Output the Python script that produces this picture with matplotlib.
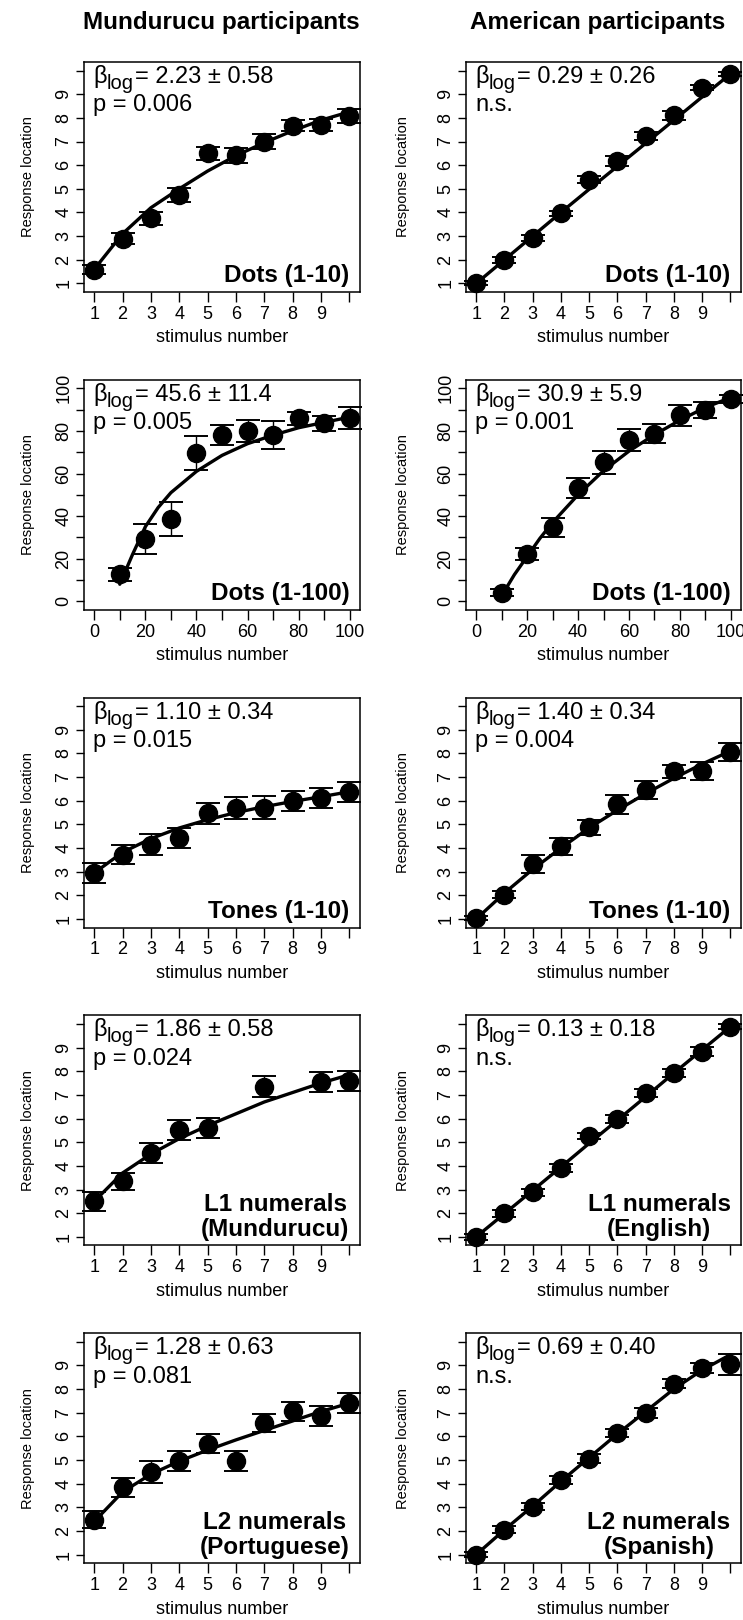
import numpy as np
import matplotlib
matplotlib.use('Agg')
import matplotlib.pyplot as plt
from matplotlib.transforms import offset_copy

plt.rcParams['font.family'] = ['Liberation Sans', 'DejaVu Sans']

stim10 = [1, 2, 3, 4, 5, 6, 7, 8, 9, 10]
stim100 = [10, 20, 30, 40, 50, 60, 70, 80, 90, 100]
fit100_x = [10, 15, 20, 25, 30, 40, 50, 60, 70, 80, 90, 100]
stimL1_mund = [1, 2, 3, 4, 5, 7, 9, 10]

# Mundurucu
mund_dots10 = [1.58, 2.9, 3.75, 4.75, 6.5, 6.42, 7.0, 7.66, 7.7, 8.08]
mund_dots10_err = [0.2, 0.23, 0.28, 0.3, 0.28, 0.32, 0.3, 0.23, 0.27, 0.3]
mund_dots10_fit = [1.6, 3.1, 4.2, 5.0, 5.75, 6.4, 6.95, 7.45, 7.9, 8.25]

mund_dots100 = [12.7, 29.3, 38.6, 69.8, 78.2, 80.0, 78.2, 86.0, 83.5, 86.0]
mund_dots100_err = [3.0, 7.1, 7.9, 8.0, 4.7, 5.1, 6.6, 3.0, 3.4, 5.2]
mund_dots100_fit = [8, 22, 35, 44, 51, 61, 68.5, 74, 78, 81.5, 84, 86.5]

mund_tones = [2.95, 3.72, 4.14, 4.42, 5.47, 5.71, 5.71, 6.0, 6.1, 6.38]
mund_tones_err = [0.43, 0.4, 0.44, 0.42, 0.44, 0.46, 0.5, 0.43, 0.42, 0.42]
mund_tones_fit = [2.95, 3.82, 4.4, 4.85, 5.2, 5.5, 5.75, 5.97, 6.17, 6.38]

mund_L1 = [2.5, 3.35, 4.55, 5.5, 5.6, 7.35, 7.55, 7.6]
mund_L1_err = [0.4, 0.37, 0.42, 0.42, 0.42, 0.44, 0.42, 0.43]
mund_L1_fit = [2.5, 3.7, 4.5, 5.15, 5.7, 6.2, 6.7, 7.1, 7.5, 7.85]

mund_L2 = [2.48, 3.84, 4.5, 4.96, 5.69, 4.96, 6.57, 7.06, 6.85, 7.41]
mund_L2_err = [0.37, 0.42, 0.45, 0.42, 0.41, 0.41, 0.39, 0.4, 0.43, 0.44]
mund_L2_fit = [2.4, 3.65, 4.4, 4.95, 5.42, 5.85, 6.25, 6.65, 7.05, 7.4]

# American
amer_dots10 = [1.02, 1.99, 2.94, 3.96, 5.39, 6.18, 7.23, 8.11, 9.28, 9.85]
amer_dots10_err = [0.1, 0.12, 0.13, 0.12, 0.15, 0.2, 0.17, 0.2, 0.12, 0.1]
amer_dots10_fit = [1.0, 2.0, 3.0, 4.0, 4.98, 5.95, 6.92, 7.9, 8.88, 9.85]

amer_dots100 = [4.1, 22.2, 34.8, 53.2, 65.2, 75.8, 78.7, 87.3, 90.0, 95.0]
amer_dots100_err = [1.5, 3.0, 4.4, 4.9, 5.4, 5.2, 4.4, 5.0, 3.8, 2.0]
amer_dots100_fit = [2.6, 12.5, 21, 29.5, 37, 50, 61.3, 70.5, 78.2, 85, 91, 95.7]

amer_tones = [1.05, 2.02, 3.33, 4.07, 4.88, 5.86, 6.45, 7.24, 7.26, 8.05]
amer_tones_err = [0.1, 0.15, 0.38, 0.36, 0.31, 0.4, 0.38, 0.28, 0.38, 0.39]
amer_tones_fit = [1.0, 2.1, 3.1, 4.0, 4.85, 5.6, 6.3, 6.95, 7.55, 8.1]

amer_L1 = [1.0, 2.0, 2.89, 3.91, 5.27, 5.99, 7.08, 7.92, 8.83, 9.88]
amer_L1_err = [0.12, 0.15, 0.15, 0.15, 0.12, 0.18, 0.17, 0.17, 0.2, 0.1]
amer_L1_fit = [1.0, 1.98, 2.96, 3.95, 4.95, 5.93, 6.92, 7.92, 8.9, 9.88]

amer_L2 = [1.0, 2.05, 3.03, 4.17, 5.06, 6.13, 6.99, 8.23, 8.89, 9.05]
amer_L2_err = [0.1, 0.15, 0.15, 0.17, 0.2, 0.17, 0.2, 0.2, 0.2, 0.45]
amer_L2_fit = [1.0, 2.05, 3.05, 4.1, 5.1, 6.1, 7.05, 8.0, 8.8, 9.45]

mund_beta = ['2.23 ± 0.58', '45.6 ± 11.4', '1.10 ± 0.34', '1.86 ± 0.58', '1.28 ± 0.63']
mund_p = ['p = 0.006', 'p = 0.005', 'p = 0.015', 'p = 0.024', 'p = 0.081']
amer_beta = ['0.29 ± 0.26', '30.9 ± 5.9', '1.40 ± 0.34', '0.13 ± 0.18', '0.69 ± 0.40']
amer_p = ['n.s.', 'p = 0.001', 'p = 0.004', 'n.s.', 'n.s.']
mund_labels = ['Dots (1-10)', 'Dots (1-100)', 'Tones (1-10)', 'L1 numerals\n(Mundurucu)', 'L2 numerals\n(Portuguese)']
amer_labels = ['Dots (1-10)', 'Dots (1-100)', 'Tones (1-10)', 'L1 numerals\n(English)', 'L2 numerals\n(Spanish)']

mund_data = [
    (stim10, mund_dots10, mund_dots10_err, stim10, mund_dots10_fit),
    (stim100, mund_dots100, mund_dots100_err, fit100_x, mund_dots100_fit),
    (stim10, mund_tones, mund_tones_err, stim10, mund_tones_fit),
    (stimL1_mund, mund_L1, mund_L1_err, stim10, mund_L1_fit),
    (stim10, mund_L2, mund_L2_err, stim10, mund_L2_fit),
]
amer_data = [
    (stim10, amer_dots10, amer_dots10_err, stim10, amer_dots10_fit),
    (stim100, amer_dots100, amer_dots100_err, fit100_x, amer_dots100_fit),
    (stim10, amer_tones, amer_tones_err, stim10, amer_tones_fit),
    (stim10, amer_L1, amer_L1_err, stim10, amer_L1_fit),
    (stim10, amer_L2, amer_L2_err, stim10, amer_L2_fit),
]

W, H = 743, 1620
fig = plt.figure(figsize=(W / 100, H / 100), dpi=100)
rend = fig.canvas.get_renderer()


def painel(ax, dados, beta, p, rotulo, big, ylab_off):
    x, y, e, xf, yf = dados
    ax.errorbar(x, y, yerr=e, fmt='none', ecolor='k', elinewidth=1.0,
                capsize=8.6, capthick=1.4, clip_on=False, zorder=2)
    ax.plot(xf, yf, color='k', lw=2.4, zorder=3, solid_capstyle='round')
    ax.plot(x, y, 'o', color='k', ms=13, zorder=4, clip_on=False)
    if big:
        ax.set_xlim(-4, 104)
        ax.set_ylim(-4, 104)
        t = list(range(0, 101, 10))
        lab = [str(v) if v % 20 == 0 else '' for v in t]
    else:
        ax.set_xlim(0.64, 10.38)
        ax.set_ylim(0.64, 10.36)
        t = list(range(1, 11))
        lab = [str(v) for v in t[:-1]] + ['']
    ax.set_xticks(t)
    ax.set_xticklabels(lab)
    ax.set_yticks(t)
    ax.set_yticklabels(lab, rotation=90, va='center')
    ax.tick_params(axis='x', direction='out', length=7, width=1.0, labelsize=13, pad=3)
    ax.tick_params(axis='y', direction='out', length=5.5, width=1.0, labelsize=13, pad=3)
    for s in ax.spines.values():
        s.set_linewidth(1.1)
    ax.set_xlabel('stimulus number', fontsize=13, va='center')
    ax.xaxis.set_label_coords(0.5, -46 / 230)
    ax.set_ylabel('Response location', fontsize=10.5, va='center')
    ax.yaxis.set_label_coords(ylab_off, 0.5)

    # beta com subscrito "log"
    x0, y0 = 0.033, 0.909
    t1 = ax.text(x0, y0, 'β', transform=ax.transAxes, fontsize=17, va='baseline')
    w1 = t1.get_window_extent(rend).width
    t2 = ax.text(x0, y0, 'log', fontsize=14.5, va='baseline',
                 transform=offset_copy(ax.transAxes, x=w1, y=-6, units='dots'))
    w2 = t2.get_window_extent(rend).width
    ax.text(x0, y0, '= ' + beta, fontsize=17, va='baseline',
            transform=offset_copy(ax.transAxes, x=w1 + w2 + 1, y=0, units='dots'))
    ax.text(x0, 0.785, p, transform=ax.transAxes, fontsize=17, va='baseline')
    ax.text(0.962, 0.02, rotulo, transform=ax.transAxes, fontsize=17.5,
            fontweight='bold', ha='right', va='bottom', multialignment='center',
            linespacing=1.1)


for i in range(5):
    base = 292 + 317.8 * i
    b = (H - base) / H
    h = 230 / H
    ax = fig.add_axes([84 / W, b, 276 / W, h])
    painel(ax, mund_data[i], mund_beta[i], mund_p[i], mund_labels[i], i == 1, -56 / 276)
    ax = fig.add_axes([466 / W, b, 275 / W, h])
    painel(ax, amer_data[i], amer_beta[i], amer_p[i], amer_labels[i], i == 1, -63 / 275)

fig.text(221 / W, 1 - 22 / H, 'Mundurucu participants', ha='center', va='center',
         fontsize=17.5, fontweight='bold')
fig.text(598 / W, 1 - 22 / H, 'American participants', ha='center', va='center',
         fontsize=17.5, fontweight='bold')

fig.savefig('out.png', dpi=100)
